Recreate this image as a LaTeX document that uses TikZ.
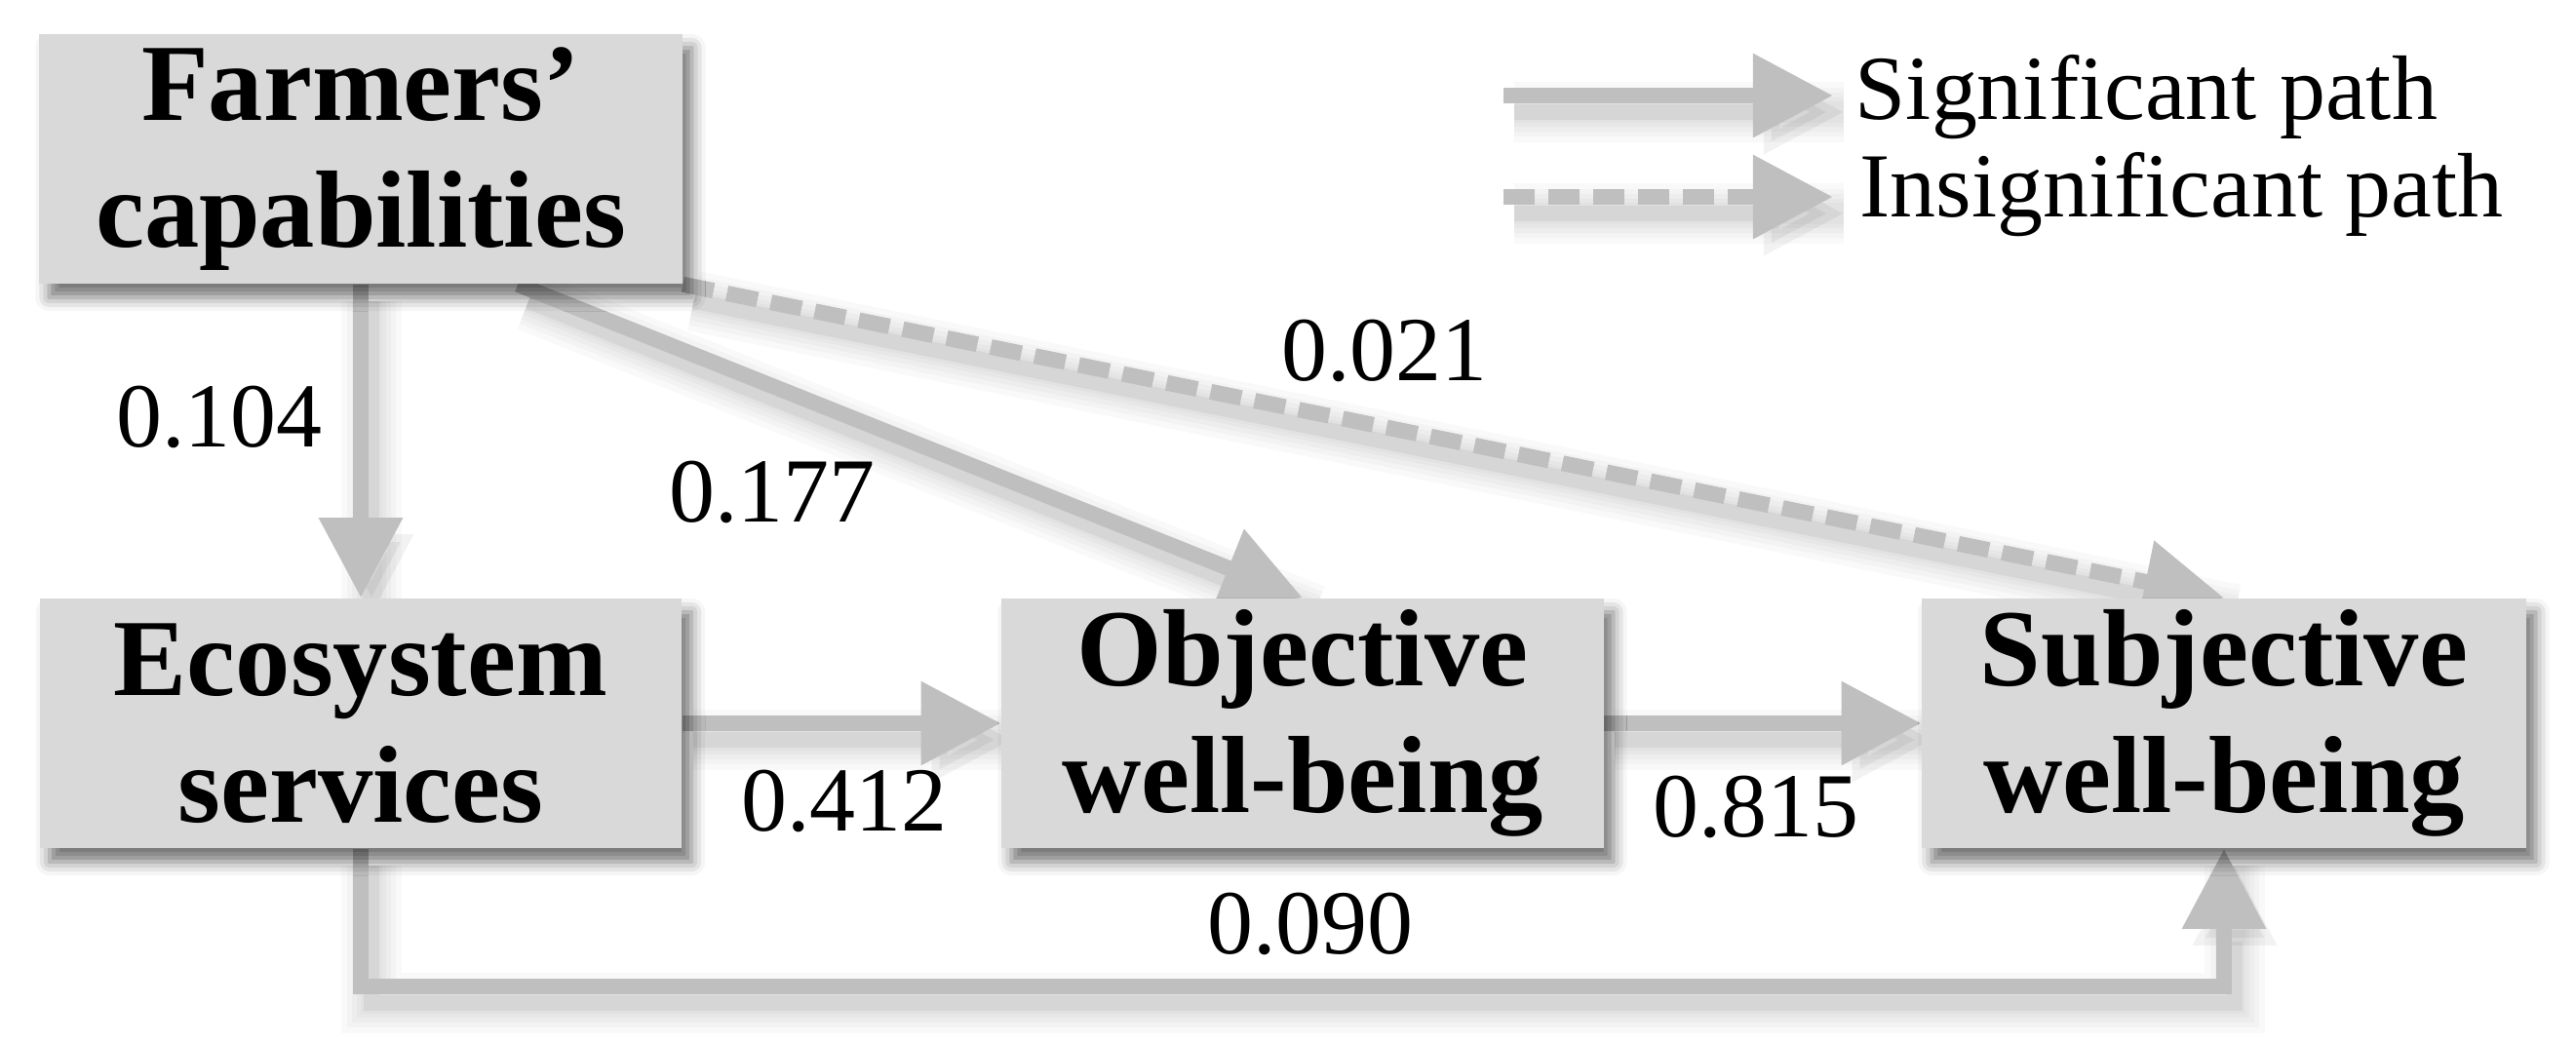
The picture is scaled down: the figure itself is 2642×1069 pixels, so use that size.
\documentclass[tikz,border=0pt]{standalone}
\usepackage{fontspec}
\setmainfont{Liberation Serif}
\usetikzlibrary{arrows.meta,shadows.blur,calc}
\definecolor{boxgray}{HTML}{D9D9D9}
\definecolor{linegray}{HTML}{BFBFBF}
\pgfdeclarelayer{bg}
\pgfsetlayers{bg,main}
\begin{document}
\begin{tikzpicture}[x=0.01cm,y=-0.01cm,
  box/.style={fill=boxgray, minimum height=2.56cm, align=center, inner sep=0pt,
    font=\fontsize{32}{37}\selectfont\bfseries,
    blur shadow={shadow xshift=0.1cm, shadow yshift=-0.14cm, shadow blur radius=0.14cm, shadow opacity=55}},
  wsh/.style={preaction={draw=black, opacity=0.022, line width=#1, arrows=-, solid,
    transform canvas={shift={(0.11cm,-0.17cm)}}}},
  lsh/.style={wsh=0.62cm, wsh=0.5cm, wsh=0.4cm, wsh=0.3cm, wsh=0.22cm,
    preaction={draw=black, opacity=0.05, line width=0.16cm,
      transform canvas={shift={(0.11cm,-0.17cm)}}}},
  conn/.style={draw=linegray, line width=0.16cm, -{Triangle[length=0.82cm,width=0.82cm]}, lsh},
  dsh/.style={dash pattern=on 0.32cm off 0.14cm},
  lbl/.style={font=\fontsize{26.7}{32}\selectfont, inner sep=0pt},
]
\useasboundingbox (0,0) rectangle (2642,1069);

% boxes
\node[box, minimum width=6.59cm] (F) at (370,163) {Farmers’\\capabilities};
\node[box, minimum width=6.58cm] (E) at (370,742) {Ecosystem\\services};
\node[box, minimum width=6.17cm] (O) at (1336,742) {Objective\\well-being};
\node[box, minimum width=6.19cm] (S) at (2281,742) {Subjective\\well-being};

\coordinate (low) at (0,1012);
\coordinate (l1a) at (1542,98);
\coordinate (l1b) at (1880,98);
\coordinate (l2a) at (1542,202);
\coordinate (l2b) at (1880,202);

\begin{pgfonlayer}{bg}
\draw[conn] (F.south) -- (E.north);
\draw[conn] ([xshift=1.61cm]F.south) -- (O.north);
\draw[conn, dsh] (F.south east) -- (S.north);
\draw[conn] (E.east) -- (O.west);
\draw[conn] (O.east) -- (S.west);
\draw[conn] (E.south) -- (E.south |- low) -| (S.south);
\draw[conn] (l1a) -- (l1b);
\draw[conn, dsh] (l2a) -- (l2b);
\end{pgfonlayer}

% legend text
\node[lbl, anchor=base west] (t1) at (1902,122) {Significant path};
\node[lbl, anchor=base west] (t2) at (1907,222) {Insignificant path};

% coefficients
\node[lbl] (n1) at (225,428) {0.104};
\node[lbl] (n2) at (792,505) {0.177};
\node[lbl] (n3) at (1420,360) {0.021};
\node[lbl] (n4) at (866,822) {0.412};
\node[lbl] (n5) at (1801,828) {0.815};
\node[lbl] (n6) at (1344,948) {0.090};
\end{tikzpicture}
\end{document}
